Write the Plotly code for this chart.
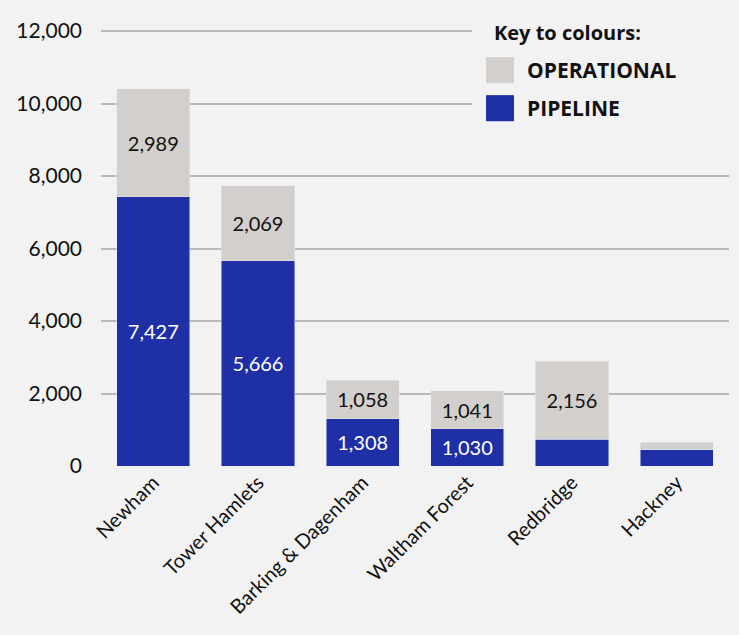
import plotly.graph_objects as go

categories = ["Newham", "Tower Hamlets", "Barking & Dagenham", "Waltham Forest", "Redbridge", "Hackney"]
pipeline = [7427, 5666, 1308, 1030, 740, 445]
operational = [2989, 2069, 1058, 1041, 2156, 215]
pipeline_labels = ["7,427", "5,666", "1,308", "1,030", "", ""]
operational_labels = ["2,989", "2,069", "1,058", "1,041", "2,156", ""]
series_names = ["OPERATIONAL", "PIPELINE"]
legend_title = "Key to colours:"
y_ticks = [0, 2000, 4000, 6000, 8000, 10000, 12000]
y_tick_text = ["0", "2,000", "4,000", "6,000", "8,000", "10,000", "12,000"]

BLUE = "#1f2fa6"
GREY = "#d2cfcc"
BG = "#f2f2f2"
FONT = "Lato"
LFONT = "Open Sans"

fig = go.Figure()
fig.add_trace(go.Bar(
    x=categories, y=pipeline, name=series_names[1], marker_color=BLUE,
    text=pipeline_labels, textposition="inside", insidetextanchor="middle",
    textangle=0, textfont=dict(color="white", size=20, family=FONT),
    showlegend=False, width=0.7, hoverinfo="x+y",
))
fig.add_trace(go.Bar(
    x=categories, y=operational, name=series_names[0], marker_color=GREY,
    text=operational_labels, textposition="inside", insidetextanchor="middle",
    textangle=0, textfont=dict(color="#111111", size=20, family=FONT),
    showlegend=False, width=0.7, hoverinfo="x+y",
))

# custom legend box (covers gridlines like the original)
fig.add_shape(type="rect", xref="paper", yref="paper", x0=(472 - 101) / 628, x1=1.0,
              y0=(466 - 140) / 435, y1=1.02,
              fillcolor=BG, line_width=0, layer="above")
fig.add_annotation(xref="paper", yref="paper", x=(492 - 101) / 628, y=(466 - 33) / 435,
                   text="<b>" + legend_title + "</b>", showarrow=False, xanchor="left",
                   yanchor="middle", font=dict(size=20, family=LFONT, color="#111111"))
swatch_colors = [GREY, BLUE]
swatch_y = [71, 109]
for name, col, yc in zip(series_names, swatch_colors, swatch_y):
    fig.add_shape(type="rect", xref="paper", yref="paper",
                  x0=(486 - 101) / 628, x1=(514 - 101) / 628,
                  y0=(466 - (yc + 13)) / 435, y1=(466 - (yc - 13)) / 435,
                  fillcolor=col, line_width=0, layer="above")
    fig.add_annotation(xref="paper", yref="paper", x=(525 - 101) / 628, y=(466 - yc) / 435,
                       text="<b>" + name + "</b>", showarrow=False, xanchor="left",
                       yanchor="middle", font=dict(size=21, family=LFONT, color="#111111"))

fig.update_layout(
    barmode="stack",
    width=739, height=635,
    margin=dict(l=101, r=10, t=30, b=169),
    paper_bgcolor=BG, plot_bgcolor=BG,
    font=dict(family=FONT, color="#111111"),
    showlegend=False,
    xaxis=dict(
        tickangle=-45, tickfont=dict(size=20, family=FONT, color="#111111"),
        showgrid=False, zeroline=False, showline=False, ticks="",
        range=[-0.5, 5.5],
    ),
    yaxis=dict(
        range=[0, 12030], tickvals=y_ticks, ticktext=y_tick_text,
        tickfont=dict(size=21, family=FONT, color="#111111"),
        showgrid=True, gridcolor="#b9b9b9", gridwidth=2,
        zeroline=False, showline=False, ticklabelstandoff=18,
    ),
)

fig.write_html("out.html")
